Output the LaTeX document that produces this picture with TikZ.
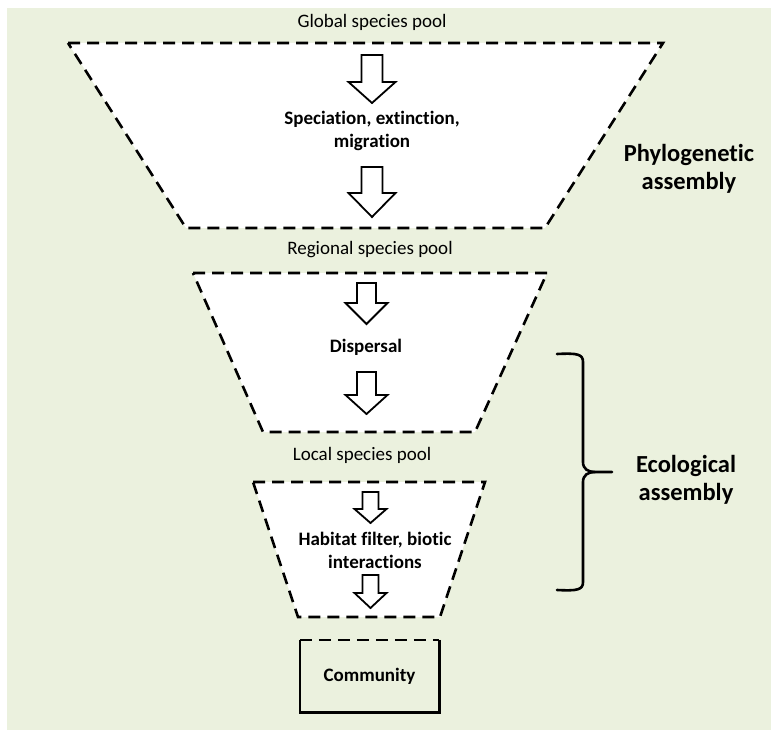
\documentclass[tikz,border=0pt]{standalone}
\usepackage{fontspec}
\setmainfont{Carlito}[Ligatures=NoCommon]
\begin{document}
\begin{tikzpicture}[x=1pt,y=-1pt,
  funnel/.style={draw=black,fill=white,line width=2.6pt,dash pattern=on 12pt off 7pt,line join=miter},
  blockarrow/.style={draw=black,fill=white,line width=1.8pt,line join=miter},
  lbl/.style={font=\fontsize{19}{23}\selectfont,align=center,inner sep=0pt},
  blbl/.style={font=\fontsize{19}{23}\selectfont\bfseries,align=center,inner sep=0pt},
  big/.style={font=\fontsize{24.5}{28}\selectfont\bfseries,align=center,inner sep=0pt}]
\newcommand\downarrowshape[7]{% cx, top, headtop, tip, shafthalf, headhalf, name
  \draw[blockarrow] (#1-#5,#2) -- (#1+#5,#2) -- (#1+#5,#3) -- (#1+#6,#3) -- (#1,#4)
     -- (#1-#6,#3) -- (#1-#5,#3) -- cycle;
  \coordinate (#7) at (#1,#4);}
\useasboundingbox (0,0) rectangle (771,730);
\fill[white] (0,0) rectangle (771,730);
\fill[fill={rgb,255:red,235;green,241;blue,222}] (7,8) rectangle (771,730);

% funnels
\draw[funnel] (68,43) -- (663,43) -- (545,228) -- (186,228) -- cycle;
\draw[funnel] (193,273) -- (547,273) -- (475,432) -- (263,432) -- cycle;
\draw[funnel] (253,482) -- (485,482) -- (440,617) -- (298,617) -- cycle;

% arrows
\downarrowshape{372}{55}{82}{103}{10.5}{23.5}{a1}
\downarrowshape{372}{167}{193}{217}{10.5}{23.5}{a2}
\downarrowshape{366.5}{283}{303}{324}{9.5}{21}{b1}
\downarrowshape{366.5}{372}{395}{414}{9.5}{21}{b2}
\downarrowshape{370.5}{492}{509}{523}{8}{16}{c1}
\downarrowshape{370.5}{575}{593}{608}{8}{16}{c2}

% labels
\node[lbl] (global) at (372,22) {Global species pool};
\node[blbl] (spec) at (372,131) {Speciation, extinction,\\migration};
\node[big] (phylo) at (689,169) {Phylogenetic\\assembly};
\node[lbl] (regional) at (370,250) {Regional species pool};
\node[blbl] (disp) at (366,347) {Dispersal};
\node[lbl] (local) at (362,455) {Local species pool};
\node[blbl] (habitat) at (375,550) {Habitat filter, biotic\\interactions};

% community box
\node[blbl,minimum width=139pt,minimum height=72pt] (comm) at (369.5,676) {Community};
\draw[line width=2.6pt,dash pattern=on 12pt off 7pt] (comm.north west) -- (comm.north east);
\draw[line width=2.6pt,line join=miter] (comm.north east) -- (comm.south east) -- (comm.south west) -- (comm.north west);

% brace
\coordinate (bt) at (557,354);
\coordinate (bb) at (557,590);
\coordinate (bm) at (612,472);
\draw[line width=2.6pt,line cap=round] (bt) .. controls (577,353) and (583,354) .. (583,362)
  -- (583,462) .. controls (583,469) and (588,472) .. (595,472) -- (bm);
\draw[line width=2.6pt,line cap=round] (bb) .. controls (577,591) and (583,590) .. (583,582)
  -- (583,482) .. controls (583,475) and (588,472) .. (595,472);
\node[big] (eco) at (686,480) {Ecological\\assembly};
\end{tikzpicture}
\end{document}
